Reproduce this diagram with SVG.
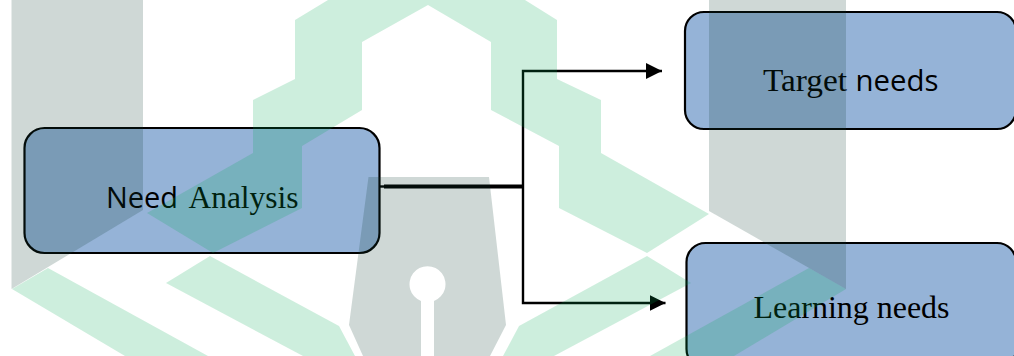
<svg xmlns="http://www.w3.org/2000/svg" width="1014" height="356" viewBox="0 0 1014 356">
<style>
.box{fill:#95b3d7;stroke:#000;stroke-width:2.2}
.se{font-family:"Liberation Serif",serif;font-size:31.500px;fill:#000}
.sa{font-family:"Open Sans","Liberation Sans",sans-serif;font-size:30px;fill:#000}
.ln{fill:none;stroke:#000;stroke-width:2.400}
.gray{fill:#0f3c32;fill-opacity:.2}
.green{fill:#00aa50;fill-opacity:.195}
</style>
<defs><marker id="ah" markerUnits="userSpaceOnUse" markerWidth="16" markerHeight="16" refX="16" refY="8" orient="auto"><path d="M0 0L16 8L0 16Z" fill="#000"/></marker></defs>
<rect width="1014" height="356" fill="#fff"/>
<g id="connectors">
<path class="ln" d="M380 186.500H384" />
<path class="ln" style="stroke-width:3.800" d="M384 186.500H523"/>
<path class="ln" marker-end="url(#ah)" d="M523 187V71H662"/>
<path class="ln" marker-end="url(#ah)" d="M523 187V303H665.500"/>
</g>
<g id="node-need-analysis">
<rect class="box" x="24.500" y="128" width="355" height="125" rx="20"/>
<text class="sa" x="106" y="208" textLength="72" lengthAdjust="spacingAndGlyphs">Need</text>
<text class="se" x="188.500" y="208" textLength="110" lengthAdjust="spacingAndGlyphs">Analysis</text>
</g>
<g id="node-target-needs">
<rect class="box" x="685" y="12" width="331" height="117" rx="19"/>
<text class="se" x="763" y="90.500" textLength="84" lengthAdjust="spacingAndGlyphs">Target</text>
<text class="sa" x="855.500" y="90.500" textLength="83" lengthAdjust="spacingAndGlyphs">needs</text>
</g>
<g id="node-learning-needs">
<rect class="box" x="686.500" y="243" width="329.500" height="125" rx="19"/>
<text class="se" x="753.500" y="317.500" textLength="196" lengthAdjust="spacingAndGlyphs">Learning needs</text>
</g>
<g id="watermark">
<path class="gray" d="M11.500 0H143V210L11.500 289Z"/>
<path class="gray" d="M709 0H846V289L709 211Z"/>
<path class="gray" fill-rule="evenodd" d="M368.500 177H489L506 325L490 356H434V301A18 18 0 1 0 421 301V356H363L349 325Z"/>
<path class="green" d="M328 0H525L557 20V79L601 100V153L709 214L647 253L559 208V146L491 110V42L428 5L362 42V110L302 146V208L213 253L147 213L253 153V100L295 79V20Z"/>
<path class="green" d="M12 289L48 268L208 356H125Z"/>
<path class="green" d="M166 283L210 256L339 326L355 356H303Z"/>
<path class="green" d="M647 256L691 283L554 356H503L519 326Z"/>
<path class="green" d="M809 268L846 289L734 356H650Z"/>
</g>
</svg>
